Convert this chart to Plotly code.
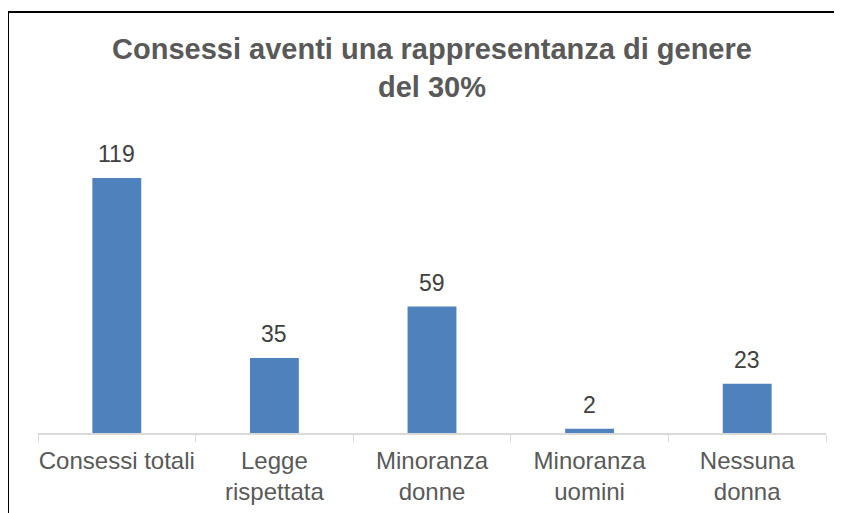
import plotly.graph_objects as go

categories = ["Consessi totali", "Legge<br>rispettata", "Minoranza<br>donne", "Minoranza<br>uomini", "Nessuna<br>donna"]
values = [119, 35, 59, 2, 23]

FONT = "Liberation Sans, Arial, sans-serif"

# the page adds an 8px body margin, so figure coords = page coords - 8
W, H = 834, 505
L, R, T, B = 30, 16, 125, 80
pw, ph = W - L - R, H - T - B

def px_x(p):
    return (p - 8 - L) / pw

def px_y(p):
    return (H - B - (p - 8)) / ph

fig = go.Figure()
fig.add_trace(go.Bar(x=categories, y=values, marker_color="#4F81BD", width=0.31,
                     marker_line_width=0, showlegend=False))

for c, v in zip(categories, values):
    fig.add_annotation(x=c, y=v, text=str(v), showarrow=False, yanchor="bottom",
                       yshift=9, font=dict(family=FONT, size=23, color="#404040"))

fig.update_layout(
    width=W, height=H,
    margin=dict(l=L, r=R, t=T, b=B, autoexpand=False),
    paper_bgcolor="white", plot_bgcolor="white",
    title=dict(text="<b>Consessi aventi una rappresentanza di genere<br>del 30%</b>",
               x=0.5, xref="paper", xanchor="center",
               y=1 - 51 / H, yref="container", yanchor="top", automargin=False,
               font=dict(family=FONT, size=29, color="#595959")),
    bargap=0.69,
)
fig.update_xaxes(showline=True, linecolor="#D9D9D9", linewidth=1.5, automargin=False,
                 ticks="outside", tickson="boundaries", ticklen=7, tickcolor="#D9D9D9",
                 tickangle=0, ticklabelstandoff=5,
                 tickfont=dict(family=FONT, size=24, color="#595959"), showgrid=False)
fig.update_yaxes(range=[0, 140], visible=False, showgrid=False, automargin=False)

# black frame (top and left edges)
fig.add_shape(type="line", xref="paper", yref="paper",
              x0=px_x(5), x1=px_x(842), y0=px_y(12), y1=px_y(12),
              line=dict(color="black", width=2))
fig.add_shape(type="line", xref="paper", yref="paper",
              x0=px_x(8), x1=px_x(8), y0=px_y(12), y1=px_y(513),
              line=dict(color="black", width=2))

fig.write_html("out.html", config={"displayModeBar": False})
